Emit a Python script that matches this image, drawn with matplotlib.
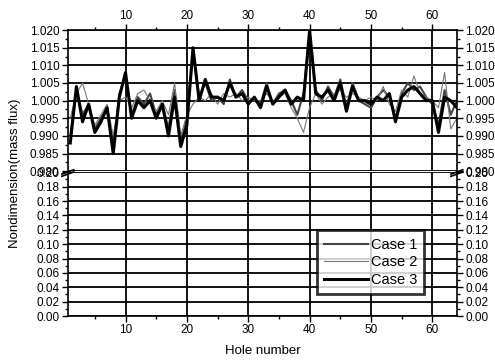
import numpy as np
import matplotlib
matplotlib.use("Agg")
import matplotlib.pyplot as plt
from matplotlib.ticker import MultipleLocator

plt.rcParams['font.family'] = ['Liberation Sans', 'DejaVu Sans']

holes = np.arange(1, 65)

case1 = [0.990, 1.003, 0.996, 0.999, 0.992, 0.995, 0.998, 0.987, 1.002, 1.007,
         0.996, 1.001, 0.999, 1.002, 0.996, 0.999, 0.992, 1.003, 0.988, 0.995,
         1.014, 1.001, 1.005, 1.000, 1.001, 0.999, 1.006, 1.001, 1.003, 1.000,
         1.000, 0.999, 1.005, 0.999, 1.002, 1.003, 1.000, 0.996, 1.002, 1.019,
         1.003, 1.000, 1.004, 1.001, 1.006, 0.998, 1.005, 1.000, 0.999, 0.998,
         1.001, 1.003, 1.001, 0.995, 1.002, 1.005, 1.003, 1.004, 1.001, 0.999,
         0.993, 1.003, 0.996, 1.000]
case2 = [0.995, 1.002, 1.005, 0.999, 0.993, 0.996, 0.999, 0.990, 1.000, 1.001,
         0.998, 1.002, 1.003, 1.000, 0.997, 1.000, 0.996, 1.005, 0.990, 0.996,
         0.999, 1.001, 1.000, 1.002, 0.999, 1.002, 1.001, 1.002, 1.000, 1.001,
         1.000, 1.000, 1.002, 1.000, 1.001, 1.002, 0.998, 0.995, 0.991, 0.998,
         1.002, 0.999, 1.001, 1.002, 1.003, 1.001, 1.002, 1.001, 1.000, 1.001,
         1.000, 1.004, 0.999, 0.997, 1.003, 1.001, 1.007, 1.002, 1.001, 1.000,
         0.998, 1.008, 0.992, 0.995]
case3 = [0.988, 1.004, 0.994, 0.999, 0.991, 0.994, 0.998, 0.985, 1.001, 1.008,
         0.995, 1.000, 0.998, 1.000, 0.995, 0.999, 0.990, 1.001, 0.987, 0.993,
         1.015, 1.000, 1.006, 1.001, 1.001, 1.000, 1.005, 1.001, 1.002, 0.999,
         1.001, 0.998, 1.004, 0.999, 1.001, 1.003, 0.999, 1.001, 1.000, 1.020,
         1.002, 1.001, 1.003, 1.000, 1.005, 0.997, 1.004, 1.000, 1.000, 0.999,
         1.001, 1.000, 1.002, 0.994, 1.001, 1.003, 1.004, 1.002, 1.000, 1.000,
         0.991, 1.001, 1.000, 0.998]

fig = plt.figure(figsize=(4.95, 3.62), dpi=100)
L, W = 0.137, 0.786
ax_top = fig.add_axes([L, 0.527, W, 0.390])
ax_bot = fig.add_axes([L, 0.127, W, 0.397])

for ax in (ax_top, ax_bot):
    ax.set_xlim(0.6, 64)
    ax.xaxis.set_major_locator(MultipleLocator(10))
    ax.xaxis.set_minor_locator(MultipleLocator(5))
    ax.grid(True, which='major', color='black', linewidth=1.3)
    ax.tick_params(which='both', direction='out', labelsize=8.5, width=1,
                   left=True, right=True, labelleft=True, labelright=True,
                   pad=2)
    ax.tick_params(which='major', length=4)
    ax.tick_params(which='minor', length=2)
    for s in ax.spines.values():
        s.set_linewidth(1.2)

ax_top.plot(holes, case1, color='#444444', linewidth=1.5, label='Case 1')
ax_top.plot(holes, case2, color='#777777', linewidth=0.8, label='Case 2')
ax_top.plot(holes, case3, color='black', linewidth=2.2, label='Case 3')

ax_top.set_ylim(0.980, 1.020)
ax_top.yaxis.set_major_locator(MultipleLocator(0.005))
ax_top.yaxis.set_minor_locator(MultipleLocator(0.0025))
ax_top.yaxis.set_major_formatter('{x:.3f}')
ax_top.tick_params(axis='x', which='both', top=True, bottom=False,
                   labeltop=True, labelbottom=False)
ax_top.spines['bottom'].set_visible(False)

ax_bot.set_ylim(0.0, 0.20)
ax_bot.yaxis.set_major_locator(MultipleLocator(0.02))
ax_bot.yaxis.set_minor_locator(MultipleLocator(0.01))
ax_bot.yaxis.set_major_formatter('{x:.2f}')
ax_bot.tick_params(axis='x', which='both', top=False, bottom=True,
                   labeltop=False, labelbottom=True)
ax_bot.spines['top'].set_visible(False)

# break marks
d = 0.012
kw = dict(transform=fig.transFigure, color='black', linewidth=1.2, clip_on=False)
for xb in (L, L + W):
    fig.add_artist(plt.Line2D([xb - d, xb + d], [0.519, 0.531], **kw))
    fig.add_artist(plt.Line2D([xb - d, xb + d], [0.513, 0.525], **kw))

h, lab = ax_top.get_legend_handles_labels()
leg = ax_bot.legend(h, lab, loc='lower right', bbox_to_anchor=(0.935, 0.1),
                    fontsize=10.5, frameon=True, fancybox=False, handlelength=3,
                    handletextpad=0.2, borderpad=0.5, labelspacing=0.25)
leg.get_frame().set_edgecolor('black')
leg.get_frame().set_linewidth(2)

fig.text(0.03, 0.52, 'Nondimension(mass flux)', rotation=90, va='center',
         ha='center', fontsize=9.5)
fig.text(0.53, 0.03, 'Hole number', ha='center', va='center', fontsize=9.5)

fig.savefig('out.png', dpi=100)
